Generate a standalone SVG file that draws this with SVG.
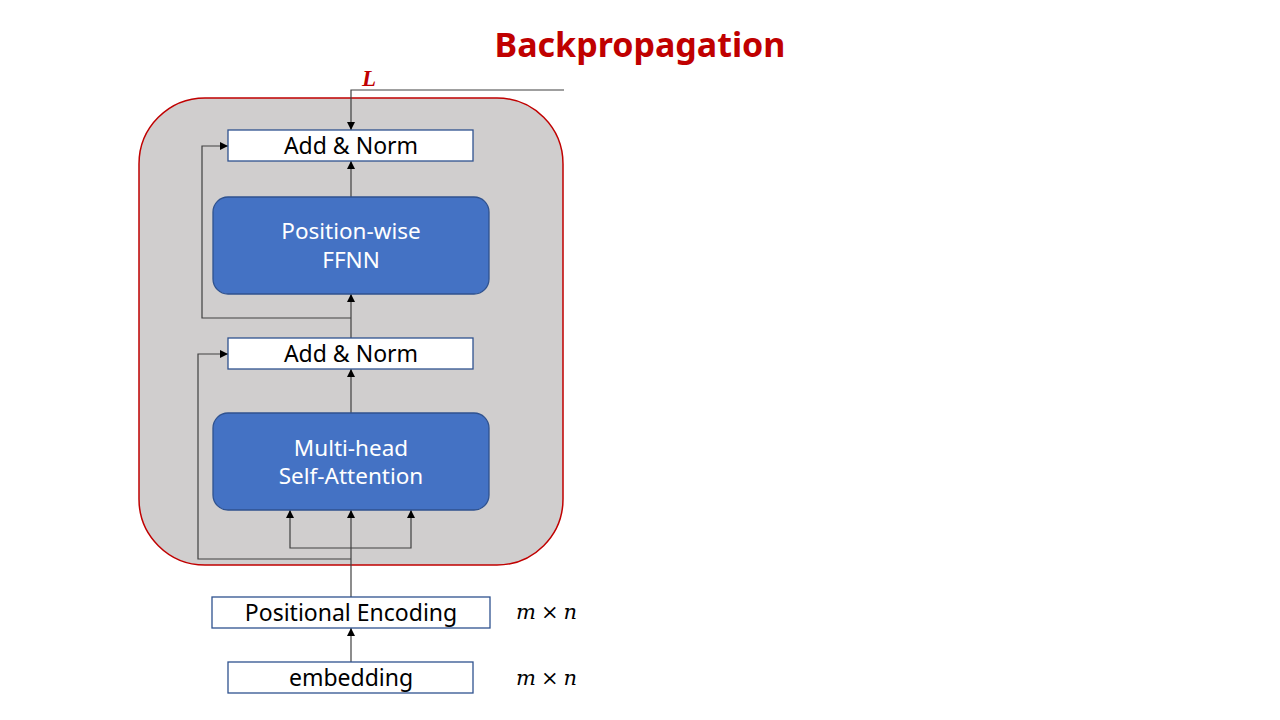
<svg xmlns="http://www.w3.org/2000/svg" width="1280" height="720" viewBox="0 0 1280 720">
<defs>
<marker id="ah" viewBox="0 0 10 10" refX="10" refY="5" markerWidth="8" markerHeight="8" markerUnits="userSpaceOnUse" orient="auto">
<path d="M0,0 L10,5 L0,10 z" fill="#000"/>
</marker>
</defs>
<style>
.wbox{fill:#fff;stroke:#2f528f;stroke-width:1.3}
.bbox{fill:#4472c4;stroke:#2f528f;stroke-width:1.3}
.t{font-family:"Noto Sans","Open Sans",sans-serif;font-size:23px;fill:#000;text-anchor:middle}
.tw{font-family:"Noto Sans","Open Sans",sans-serif;font-size:22.5px;fill:#fff;text-anchor:middle}
.c{fill:none;stroke:#404040;stroke-width:1.2}
.ca{fill:none;stroke:#404040;stroke-width:1.2;marker-end:url(#ah)}
.m{font-family:"DejaVu Serif","Liberation Serif",serif;font-style:italic;font-size:21px;fill:#000}
</style>
<rect width="1280" height="720" fill="#fff"/>
<text x="640" y="57" font-family="'Noto Sans','Open Sans',sans-serif" font-weight="bold" font-size="34" fill="#c00000" text-anchor="middle">Backpropagation</text>
<g id="container"><rect x="139" y="98" width="424" height="467" rx="66" fill="#d0cece" stroke="#c00000" stroke-width="1.5"/></g>
<g id="connectors">
<polyline class="ca" points="564,90 351,90 351,130"/>
<line class="ca" x1="351" y1="197" x2="351" y2="161"/>
<line class="ca" x1="351" y1="338" x2="351" y2="294"/>
<line class="ca" x1="351" y1="413" x2="351" y2="369"/>
<line class="ca" x1="351" y1="597" x2="351" y2="510"/>
<line class="ca" x1="351" y1="662" x2="351" y2="628"/>
<polyline class="ca" points="351,548 290,548 290,510"/>
<polyline class="ca" points="351,548 411,548 411,510"/>
<polyline class="ca" points="351,318 202,318 202,146 228,146"/>
<polyline class="ca" points="351,559 198,559 198,354 228,354"/>
</g>
<text x="369" y="86" font-family="'Liberation Serif',serif" font-style="italic" font-weight="bold" font-size="23" fill="#c00000" text-anchor="middle">L</text>
<g id="addnorm2"><rect class="wbox" x="228" y="130" width="245" height="31"/><text class="t" x="351" y="154">Add &amp; Norm</text></g>
<g id="ffnn"><rect class="bbox" x="213" y="197" width="276" height="97" rx="15"/><text class="tw" x="351" y="239">Position-wise</text><text class="tw" x="351" y="268">FFNN</text></g>
<g id="addnorm1"><rect class="wbox" x="228" y="338" width="245" height="31"/><text class="t" x="351" y="362">Add &amp; Norm</text></g>
<g id="mha"><rect class="bbox" x="213" y="413" width="276" height="97" rx="15"/><text class="tw" x="351" y="456">Multi-head</text><text class="tw" x="351" y="484">Self-Attention</text></g>
<g id="posenc"><rect class="wbox" x="212" y="597" width="278" height="31"/><text class="t" x="351" y="621">Positional Encoding</text></g>
<g id="embedding"><rect class="wbox" x="228" y="662" width="245" height="31"/><text class="t" x="351" y="686">embedding</text></g>
<text class="m" x="516" y="619">m<tspan font-style="normal" dx="5">×</tspan><tspan dx="5">n</tspan></text>
<text class="m" x="516" y="685">m<tspan font-style="normal" dx="5">×</tspan><tspan dx="5">n</tspan></text>
</svg>
